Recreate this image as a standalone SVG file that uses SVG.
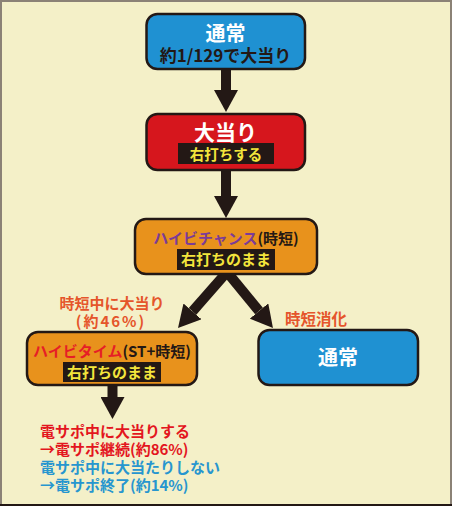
<svg xmlns="http://www.w3.org/2000/svg" width="452" height="506" viewBox="0 0 452 506">
<defs>
<style>
.bg{fill:#f4f0c8}
.node{stroke:#231815;stroke-width:2.5}
.blue{fill:#1f91d2}
.red{fill:#d6161d}
.orange{fill:#e8921c}
.lbl{fill:#231815}
text{font-family:"Noto Sans CJK JP","Noto Sans",sans-serif;font-weight:bold}
.w{fill:#ffffff}
.y{fill:#f3e53c}
.k{fill:#231815}
.c{text-anchor:middle}
.conn{stroke:#231815;stroke-width:10;fill:none;stroke-linecap:butt}
</style>
<marker id="ah" viewBox="0 0 22 24" markerWidth="22" markerHeight="24" markerUnits="userSpaceOnUse" refX="0" refY="12" orient="auto">
<path d="M0,0 L22,12 L0,24 Z" fill="#231815"/>
</marker>
</defs>
<rect class="bg" x="0" y="0" width="452" height="506"/>
<path d="M1,506 V1 H451 V506" fill="none" stroke="#8b8276" stroke-width="2"/>
<line x1="0" y1="505" x2="452" y2="505" stroke="#231815" stroke-width="2"/>

<g id="connectors">
<line class="conn" x1="226" y1="69" x2="226" y2="90" marker-end="url(#ah)"/>
<line class="conn" x1="226" y1="170" x2="226" y2="196" marker-end="url(#ah)"/>
<line class="conn" x1="227" y1="272" x2="192.5" y2="311.4" marker-end="url(#ah)"/>
<line class="conn" x1="227" y1="272" x2="259" y2="311" marker-end="url(#ah)"/>
<line class="conn" x1="112.5" y1="385" x2="112.5" y2="397" marker-end="url(#ah)"/>
</g>

<g id="node-normal-top">
<rect class="node blue" x="146.5" y="14" width="158.5" height="55" rx="11"/>
<text class="w c" x="225.5" y="41" font-size="20">通常</text>
<text class="k c" x="225.5" y="62" font-size="17">約1/129で大当り</text>
</g>

<g id="node-jackpot">
<rect class="node red" x="146.5" y="114" width="158.5" height="56" rx="11"/>
<text class="w c" x="225.5" y="140" font-size="21">大当り</text>
<rect class="lbl" x="178" y="143" width="96" height="21"/>
<text class="y c" x="226" y="159.5" font-size="14.5">右打ちする</text>
</g>

<g id="node-highbi-chance">
<rect class="node orange" x="135" y="219" width="182" height="55" rx="11"/>
<text class="c" x="226" y="243.5" font-size="15"><tspan fill="#7b3b98">ハイビチャンス</tspan><tspan class="k">(時短)</tspan></text>
<rect class="lbl" x="177" y="249" width="98" height="21"/>
<text class="y c" x="226" y="265" font-size="15">右打ちのまま</text>
</g>

<g id="label-left">
<text class="c" x="112" y="309" font-size="15" fill="#e5552b">時短中に大当り</text>
<text class="c" x="111" y="327" font-size="15" fill="#e5552b" letter-spacing="2">(約46%)</text>
</g>

<g id="label-right">
<text x="285" y="325" font-size="15.5" fill="#e5552b">時短消化</text>
</g>

<g id="node-highbi-time">
<rect class="node orange" x="27" y="332" width="170" height="53" rx="11"/>
<text class="c" x="112" y="356.5" font-size="15"><tspan fill="#e61e26">ハイビタイム</tspan><tspan class="k">(ST+時短)</tspan></text>
<rect class="lbl" x="63" y="362" width="98" height="20"/>
<text class="y c" x="112" y="377.5" font-size="15">右打ちのまま</text>
</g>

<g id="node-normal-right">
<rect class="node blue" x="258.5" y="330" width="159.5" height="55" rx="11"/>
<text class="w c" x="338" y="365" font-size="20">通常</text>
</g>

<g id="notes">
<text x="40" y="437" font-size="15" fill="#e3161e">電サポ中に大当りする</text>
<text x="40" y="455" font-size="15" fill="#e3161e">→電サポ継続(約86%)</text>
<text x="40" y="473" font-size="15" fill="#2796cf">電サポ中に大当たりしない</text>
<text x="40" y="491" font-size="15" fill="#2796cf">→電サポ終了(約14%)</text>
</g>
</svg>
